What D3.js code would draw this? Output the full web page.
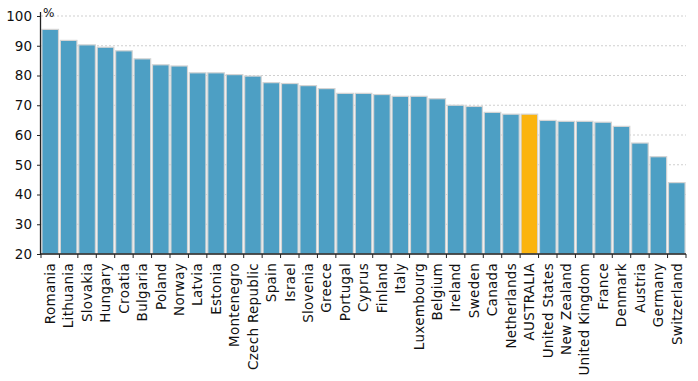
<!DOCTYPE html>
<html><head><meta charset="utf-8">
<script src="https://cdn.jsdelivr.net/npm/d3@7/dist/d3.min.js"></script>
<style>body{margin:0;background:#fff}svg{display:block}text{font-family:"DejaVu Sans",sans-serif}</style>
</head><body><svg id="c" width="698" height="381"></svg>
<script>
const categories = ["Romania","Lithuania","Slovakia","Hungary","Croatia","Bulgaria","Poland","Norway","Latvia","Estonia","Montenegro","Czech Republic","Spain","Israel","Slovenia","Greece","Portugal","Cyprus","Finland","Italy","Luxembourg","Belgium","Ireland","Sweden","Canada","Netherlands","AUSTRALIA","United States","New Zealand","United Kingdom","France","Denmark","Austria","Germany","Switzerland"];
const values = [95.5,91.8,90.3,89.5,88.3,85.6,83.6,83.2,80.9,80.9,80.3,79.8,77.6,77.3,76.6,75.6,74.0,74.0,73.6,73.0,73.0,72.2,70.0,69.6,67.6,67.0,67.0,64.9,64.6,64.6,64.3,62.9,57.3,52.7,44.0];
const yTicks = [20,30,40,50,60,70,80,90,100];
const highlight = "AUSTRALIA";

const svg = d3.select("#c");
const m = {l:41, r:12, t:16, b:127};
const W = 698, H = 381;
const x = d3.scaleBand().domain(categories).range([m.l, W - m.r]).paddingInner(0.1).paddingOuter(0.05);
const y = d3.scaleLinear().domain([20,100]).range([H - m.b, m.t]);

// gridlines
svg.append("g").selectAll("line").data(yTicks.slice(1)).join("line")
  .attr("x1", m.l).attr("x2", W - m.r)
  .attr("y1", d => y(d)).attr("y2", d => y(d))
  .attr("stroke", "#cfcfcf").attr("stroke-dasharray", "2,2").attr("stroke-width", 1);

// bars
svg.append("g").selectAll("rect").data(categories).join("rect")
  .attr("x", d => x(d)).attr("width", x.bandwidth())
  .attr("y", (d,i) => y(values[i])).attr("height", (d,i) => y(20) - y(values[i]))
  .attr("fill", d => d === highlight ? "#fbb40f" : "#4d9fc4")
  .attr("stroke", "#d4d4d4").attr("stroke-width", 1.2);

// y axis
const ya = svg.append("g").attr("transform", `translate(${m.l},0)`)
  .call(d3.axisLeft(y).tickValues(yTicks).tickSize(4).tickPadding(5));
ya.select(".domain").attr("stroke", "#222").attr("d", `M-0.5,${y(20)}V${y(100)-4}`).attr("stroke-width",1.3);
ya.selectAll(".tick line").attr("stroke", "#222");
ya.selectAll("text").attr("font-size", 13.5).attr("fill", "#111").attr("font-family", "DejaVu Sans");

// x axis
const step = x.step();
const xa = svg.append("g").attr("transform", `translate(0,${y(20)})`);
xa.append("line").attr("x1", m.l).attr("x2", W - m.r).attr("stroke", "#222").attr("stroke-width", 1.3);
xa.selectAll("line.t").data(d3.range(categories.length + 1)).join("line").attr("class","t")
  .attr("x1", i => x(categories[0]) - x.step()*x.paddingInner()/2 + i*step)
  .attr("x2", i => x(categories[0]) - x.step()*x.paddingInner()/2 + i*step)
  .attr("y1", 0).attr("y2", 4).attr("stroke", "#222");
xa.selectAll("text").data(categories).join("text")
  .attr("transform", d => `translate(${x(d) + x.bandwidth()/2 + 4.8},9) rotate(-90)`)
  .attr("text-anchor", "end").attr("font-size", 13.5).attr("letter-spacing", 0.3).attr("fill", "#111")
  .text(d => d);

svg.append("text").attr("x", m.l + 2).attr("y", 17).attr("font-size", 12).attr("fill", "#111").text("%");
</script></body></html>
